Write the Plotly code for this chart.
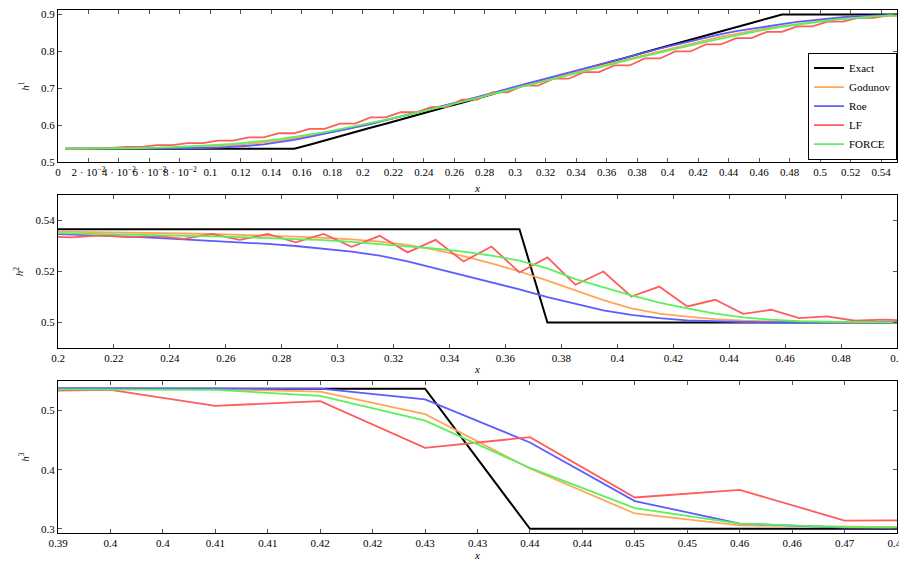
import plotly.graph_objects as go

# ---------------- Panel 1: h^1 ----------------
x1 = [0.005, 0.015, 0.025, 0.035, 0.045, 0.055, 0.065, 0.075, 0.085, 0.095,
      0.105, 0.115, 0.125, 0.135, 0.145, 0.155, 0.165, 0.175, 0.185, 0.195,
      0.205, 0.215, 0.225, 0.235, 0.245, 0.255, 0.265, 0.275, 0.285, 0.295,
      0.305, 0.315, 0.325, 0.335, 0.345, 0.355, 0.365, 0.375, 0.385, 0.395,
      0.405, 0.415, 0.425, 0.435, 0.445, 0.455, 0.465, 0.475, 0.485, 0.495,
      0.505, 0.515, 0.525, 0.535, 0.545, 0.555]
h1_exact = [0.536, 0.536, 0.536, 0.536, 0.536, 0.536, 0.536, 0.536, 0.536, 0.536,
            0.536, 0.536, 0.536, 0.536, 0.536, 0.536, 0.547, 0.559, 0.570, 0.582,
            0.593, 0.604, 0.616, 0.627, 0.638, 0.650, 0.661, 0.673, 0.684, 0.695,
            0.707, 0.718, 0.729, 0.741, 0.752, 0.764, 0.775, 0.786, 0.798, 0.809,
            0.820, 0.832, 0.843, 0.855, 0.866, 0.877, 0.889, 0.900, 0.900, 0.900,
            0.900, 0.900, 0.900, 0.900, 0.900, 0.900]
h1_godunov = [0.536, 0.536, 0.536, 0.536, 0.536, 0.537, 0.537, 0.538, 0.539, 0.541,
              0.543, 0.546, 0.549, 0.553, 0.558, 0.564, 0.571, 0.578, 0.586, 0.595,
              0.604, 0.613, 0.623, 0.633, 0.644, 0.654, 0.665, 0.675, 0.686, 0.697,
              0.707, 0.718, 0.729, 0.739, 0.750, 0.760, 0.771, 0.781, 0.792, 0.802,
              0.812, 0.821, 0.831, 0.840, 0.848, 0.856, 0.863, 0.869, 0.875, 0.880,
              0.885, 0.889, 0.892, 0.895, 0.897, 0.898]
h1_roe = [0.536, 0.536, 0.536, 0.536, 0.536, 0.536, 0.536, 0.537, 0.537, 0.538,
          0.539, 0.541, 0.544, 0.548, 0.553, 0.560, 0.568, 0.576, 0.585, 0.594,
          0.603, 0.613, 0.623, 0.633, 0.644, 0.654, 0.665, 0.676, 0.688, 0.699,
          0.710, 0.721, 0.732, 0.743, 0.754, 0.765, 0.776, 0.787, 0.797, 0.808,
          0.818, 0.828, 0.838, 0.847, 0.855, 0.862, 0.868, 0.874, 0.880, 0.885,
          0.889, 0.893, 0.896, 0.898, 0.899, 0.900]
h1_lf = [0.535, 0.535, 0.538, 0.538, 0.541, 0.541, 0.546, 0.546, 0.551, 0.551,
         0.558, 0.558, 0.567, 0.567, 0.578, 0.578, 0.590, 0.590, 0.604, 0.604,
         0.621, 0.621, 0.635, 0.635, 0.649, 0.649, 0.669, 0.669, 0.689, 0.689,
         0.707, 0.707, 0.726, 0.726, 0.744, 0.744, 0.762, 0.762, 0.781, 0.781,
         0.800, 0.800, 0.819, 0.819, 0.836, 0.836, 0.853, 0.853, 0.868, 0.868,
         0.881, 0.881, 0.891, 0.891, 0.898, 0.898]
h1_force = [0.536, 0.536, 0.536, 0.536, 0.537, 0.538, 0.539, 0.540, 0.542, 0.544,
            0.546, 0.549, 0.553, 0.557, 0.562, 0.568, 0.574, 0.581, 0.589, 0.597,
            0.605, 0.614, 0.624, 0.633, 0.643, 0.653, 0.663, 0.674, 0.684, 0.694,
            0.705, 0.715, 0.725, 0.736, 0.746, 0.756, 0.767, 0.778, 0.788, 0.798,
            0.808, 0.817, 0.826, 0.835, 0.844, 0.852, 0.860, 0.867, 0.873, 0.879,
            0.884, 0.888, 0.892, 0.895, 0.897, 0.898]

# ---------------- Panel 2: h^2 ----------------
x2 = [0.195, 0.205, 0.215, 0.225, 0.235, 0.245, 0.255, 0.265, 0.275, 0.285,
      0.295, 0.305, 0.315, 0.325, 0.335, 0.345, 0.355, 0.365, 0.375, 0.385,
      0.395, 0.405, 0.415, 0.425, 0.435, 0.445, 0.455, 0.465, 0.475, 0.485,
      0.495, 0.505]
h2_exact = [0.5366, 0.5366, 0.5366, 0.5366, 0.5366, 0.5366, 0.5366, 0.5366, 0.5366, 0.5366,
            0.5366, 0.5366, 0.5366, 0.5366, 0.5366, 0.5366, 0.5366, 0.5366, 0.5000, 0.5000,
            0.5000, 0.5000, 0.5000, 0.5000, 0.5000, 0.5000, 0.5000, 0.5000, 0.5000, 0.5000,
            0.5000, 0.5000]
h2_godunov = [0.5357, 0.5356, 0.5355, 0.5353, 0.5351, 0.5349, 0.5347, 0.5344, 0.5341, 0.5337,
              0.5332, 0.5326, 0.5317, 0.5304, 0.5285, 0.5260, 0.5232, 0.5200, 0.5164, 0.5127,
              0.5088, 0.5055, 0.5035, 0.5023, 0.5013, 0.5007, 0.5004, 0.5002, 0.5001, 0.5000,
              0.5000, 0.5000]
h2_roe = [0.5348, 0.5345, 0.5341, 0.5337, 0.5332, 0.5326, 0.5320, 0.5315, 0.5308, 0.5300,
          0.5290, 0.5278, 0.5262, 0.5240, 0.5212, 0.5185, 0.5160, 0.5130, 0.5100, 0.5075,
          0.5048, 0.5030, 0.5017, 0.5008, 0.5004, 0.5002, 0.5001, 0.5000, 0.5000, 0.5000,
          0.5000, 0.5000]
h2_lf = [0.5338, 0.5334, 0.5342, 0.5335, 0.5340, 0.5328, 0.5347, 0.5324, 0.5347, 0.5314,
         0.5347, 0.5297, 0.5340, 0.5275, 0.5324, 0.5239, 0.5298, 0.5196, 0.5255, 0.5148,
         0.5200, 0.5102, 0.5141, 0.5063, 0.5089, 0.5034, 0.5050, 0.5017, 0.5024, 0.5007,
         0.5011, 0.5008]
h2_force = [0.5352, 0.5350, 0.5348, 0.5346, 0.5344, 0.5341, 0.5338, 0.5335, 0.5332, 0.5328,
            0.5323, 0.5316, 0.5308, 0.5299, 0.5290, 0.5278, 0.5262, 0.5243, 0.5212, 0.5170,
            0.5138, 0.5106, 0.5078, 0.5055, 0.5035, 0.5020, 0.5011, 0.5005, 0.5003, 0.5001,
            0.5000, 0.5000]

# ---------------- Panel 3: h^3 ----------------
x3 = [0.385, 0.395, 0.405, 0.415, 0.425, 0.435, 0.445, 0.455, 0.465, 0.475]
h3_exact = [0.537, 0.537, 0.537, 0.537, 0.537, 0.300, 0.300, 0.300, 0.300, 0.300]
h3_godunov = [0.537, 0.537, 0.536, 0.532, 0.494, 0.402, 0.326, 0.306, 0.303, 0.302]
h3_roe = [0.538, 0.538, 0.538, 0.537, 0.519, 0.446, 0.347, 0.309, 0.302, 0.301]
h3_lf = [0.533, 0.535, 0.508, 0.516, 0.437, 0.455, 0.353, 0.366, 0.314, 0.315]
h3_force = [0.536, 0.536, 0.535, 0.525, 0.483, 0.403, 0.335, 0.309, 0.303, 0.302]

# ---------------- Tick labels ----------------
t1_vals = [0, 0.02, 0.04, 0.06, 0.08, 0.1, 0.12, 0.14, 0.16, 0.18, 0.2, 0.22, 0.24,
           0.26, 0.28, 0.3, 0.32, 0.34, 0.36, 0.38, 0.4, 0.42, 0.44, 0.46, 0.48,
           0.5, 0.52, 0.54]
t1_text = ["0", "2 · 10<sup>−2</sup>", "4 · 10<sup>−2</sup>", "6 · 10<sup>−2</sup>",
           "8 · 10<sup>−2</sup>", "0.1", "0.12", "0.14", "0.16", "0.18", "0.2", "0.22",
           "0.24", "0.26", "0.28", "0.3", "0.32", "0.34", "0.36", "0.38", "0.4", "0.42",
           "0.44", "0.46", "0.48", "0.5", "0.52", "0.54"]
t2_vals = [0.2, 0.22, 0.24, 0.26, 0.28, 0.3, 0.32, 0.34, 0.36, 0.38, 0.4, 0.42,
           0.44, 0.46, 0.48, 0.5]
t2_text = ["0.2", "0.22", "0.24", "0.26", "0.28", "0.3", "0.32", "0.34", "0.36",
           "0.38", "0.4", "0.42", "0.44", "0.46", "0.48", "0.5"]
t3_vals = [0.39, 0.395, 0.4, 0.405, 0.41, 0.415, 0.42, 0.425, 0.43, 0.435, 0.44,
           0.445, 0.45, 0.455, 0.46, 0.465, 0.47]
t3_text = ["0.39", "0.4", "0.4", "0.41", "0.41", "0.42", "0.42", "0.43", "0.43",
           "0.44", "0.44", "0.45", "0.45", "0.46", "0.46", "0.47", "0.47"]

names = ["Exact", "Godunov", "Roe", "LF", "FORCE"]
colors = ["#000000", "#ffa65a", "#5c5cff", "#ff5c5c", "#5cf05c"]
widths = [2, 1.8, 1.8, 1.8, 1.8]

panels = [
    (x1, [h1_exact, h1_godunov, h1_roe, h1_lf, h1_force], "x", "y"),
    (x2, [h2_exact, h2_godunov, h2_roe, h2_lf, h2_force], "x2", "y2"),
    (x3, [h3_exact, h3_godunov, h3_roe, h3_lf, h3_force], "x3", "y3"),
]

FONT = "Liberation Serif"
fig = go.Figure()
for pi, (xs, series, xa, ya) in enumerate(panels):
    for k in range(5):
        fig.add_trace(go.Scatter(
            x=xs, y=series[k], mode="lines", name=names[k],
            line=dict(color=colors[k], width=widths[k]),
            xaxis=xa, yaxis=ya, showlegend=(pi == 0), legendgroup=names[k],
        ))

axis_common = dict(showline=True, linecolor="black", linewidth=1, mirror="ticks",
                   ticks="inside", ticklen=4, tickcolor="#555555", showgrid=False,
                   zeroline=False, automargin=False, ticklabeloverflow="allow",
                   tickfont=dict(family=FONT, size=11, color="black"))

def xtitle(so):
    return dict(text="<i>x</i>", standoff=so, font=dict(family=FONT, size=11))

def ytitle(n):
    return dict(text="<i>h</i><sup>%d</sup>" % n, standoff=9,
                font=dict(family=FONT, size=11))

# the page adds an 8px body margin, so the margins are offset to compensate
fig.update_layout(
    width=899, height=553,
    margin=dict(l=50, r=10, t=2, b=28, autoexpand=False),
    plot_bgcolor="white", paper_bgcolor="white",
    font=dict(family=FONT, size=11, color="black"),
    showlegend=True,
    legend=dict(x=1, xanchor="right", y=0.714, yanchor="bottom",
                bordercolor="black", borderwidth=1, bgcolor="white",
                font=dict(family=FONT, size=11), tracegroupgap=0,
                itemwidth=30),
    xaxis=dict(domain=[0, 1], anchor="y", range=[0, 0.5505], tickmode="array",
               tickvals=t1_vals, ticktext=t1_text, tickangle=0,
               title=xtitle(7), **axis_common),
    yaxis=dict(domain=[0.7094, 1], anchor="x", range=[0.5, 0.9125], tickmode="array",
               tickvals=[0.5, 0.6, 0.7, 0.8, 0.9], ticktext=["0.5", "0.6", "0.7", "0.8", "0.9"],
               title=ytitle(1), **axis_common),
    xaxis2=dict(domain=[0, 1], anchor="y2", range=[0.2, 0.5], tickmode="array",
                tickvals=t2_vals, ticktext=t2_text, tickangle=0,
                title=xtitle(2), **axis_common),
    yaxis2=dict(domain=[0.3537, 0.6463], anchor="x2", range=[0.49, 0.55], tickmode="array",
                tickvals=[0.5, 0.52, 0.54], ticktext=["0.5", "0.52", "0.54"],
                title=ytitle(2), **axis_common),
    xaxis3=dict(domain=[0, 1], anchor="y3", range=[0.39, 0.47], tickmode="array",
                tickvals=t3_vals, ticktext=t3_text, tickangle=0,
                title=xtitle(1), **axis_common),
    yaxis3=dict(domain=[0, 0.2906], anchor="x3", range=[0.293, 0.55], tickmode="array",
                tickvals=[0.3, 0.4, 0.5], ticktext=["0.3", "0.4", "0.5"],
                title=ytitle(3), **axis_common),
)

fig.write_html("out.html")
